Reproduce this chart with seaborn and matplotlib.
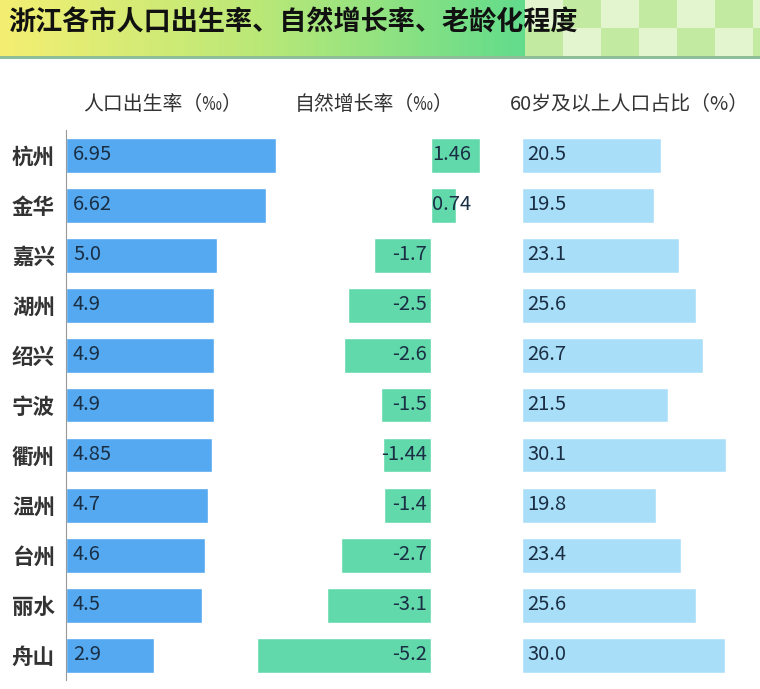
import numpy as np
import pandas as pd
import matplotlib.pyplot as plt
from matplotlib.patches import Rectangle
from matplotlib.colors import LinearSegmentedColormap
import seaborn as sns

# 数据
cities = ['杭州', '金华', '嘉兴', '湖州', '绍兴', '宁波', '衢州', '温州', '台州', '丽水', '舟山']
birth_rate = [6.95, 6.62, 5.0, 4.9, 4.9, 4.9, 4.85, 4.7, 4.6, 4.5, 2.9]
birth_labels = ['6.95', '6.62', '5.0', '4.9', '4.9', '4.9', '4.85', '4.7', '4.6', '4.5', '2.9']
growth_rate = [1.46, 0.74, -1.7, -2.5, -2.6, -1.5, -1.44, -1.4, -2.7, -3.1, -5.2]
growth_labels = ['1.46', '0.74', '-1.7', '-2.5', '-2.6', '-1.5', '-1.44', '-1.4', '-2.7', '-3.1', '-5.2']
aged_share = [20.5, 19.5, 23.1, 25.6, 26.7, 21.5, 30.1, 19.8, 23.4, 25.6, 30.0]
aged_labels = ['20.5', '19.5', '23.1', '25.6', '26.7', '21.5', '30.1', '19.8', '23.4', '25.6', '30.0']

headers = ['人口出生率（‰）', '自然增长率（‰）', '60岁及以上人口占比（%）']
title = '浙江各市人口出生率、自然增长率、老龄化程度'

df = pd.DataFrame({'city': cities, 'birth': birth_rate,
                   'growth': growth_rate, 'aged': aged_share})

sns.set_style('white')
plt.rcParams['font.family'] = ['Noto Sans CJK SC', 'DejaVu Sans']

W, H = 760, 689
fig = plt.figure(figsize=(W / 100, H / 100), dpi=100)
fig.patch.set_facecolor('white')

def px_axes(x0, y0, x1, y1):
    return fig.add_axes([x0 / W, 1 - y1 / H, (x1 - x0) / W, (y1 - y0) / H])

# 标题横幅
ban = px_axes(0, 0, W, 57)
ban.set_xlim(0, W)
ban.set_ylim(57, 0)
ban.axis('off')
grad = np.linspace(0, 1, 256)[None, :]
cmap = LinearSegmentedColormap.from_list('ban', ['#f4ef72', '#b9e878', '#62dc8c'])
ban.imshow(grad, cmap=cmap, aspect='auto', extent=[0, 525, 57, 0])
ban.add_patch(Rectangle((525, 0), W - 525, 57, color='#cdeeb0', lw=0))
sq = 38
for i, x in enumerate(range(525, W, sq)):
    for j, y in enumerate([-10, 28]):
        c = '#e3f5cf' if (i + j) % 2 == 0 else '#c2eaa0'
        ban.add_patch(Rectangle((x, y), sq, sq, color=c, lw=0))
ban.text(8, 23, title, fontsize=19.5, fontweight='bold', color='#111111', va='center', ha='left')

line_ax = px_axes(0, 56, W, 59)
line_ax.axis('off')
line_ax.add_patch(Rectangle((0, 0), 1, 1, transform=line_ax.transAxes, color='#8fbf9a', lw=0))

# 三个面板
ytop, ybot = 130, 680
ax1 = px_axes(66, ytop, 66 + 7.6 * 30.2, ybot)
ax2 = px_axes(431 - 5.6 * 33.4, ytop, 431 + 1.9 * 33.4, ybot)
ax3 = px_axes(522, ytop, 522 + 33 * 6.78, ybot)

txt_color = '#1a2e44'

sns.barplot(data=df, y='city', x='birth', orient='h', color='#55a9f0',
            saturation=1, width=0.7, ax=ax1)
sns.barplot(data=df, y='city', x='growth', orient='h', color='#62d9ab',
            saturation=1, width=0.7, ax=ax2)
sns.barplot(data=df, y='city', x='aged', orient='h', color='#a9def8',
            saturation=1, width=0.7, ax=ax3)

ax1.set_xlim(0, 7.6)
ax2.set_xlim(-5.6, 1.9)
ax3.set_xlim(0, 33)

for ax in (ax1, ax2, ax3):
    ax.set_ylim(10.5, -0.5)
    ax.set_xlabel('')
    ax.set_ylabel('')
    ax.set_xticks([])
    ax.set_facecolor('none')
    for s in ax.spines.values():
        s.set_visible(False)

ax1.spines['left'].set_visible(True)
ax1.spines['left'].set_color('#999999')
ax1.tick_params(axis='y', length=5, color='#999999', pad=3)
ax1.set_yticks(range(len(cities)))
ax1.set_yticklabels(cities, fontsize=15.5, fontweight='bold', color='#333333')
ax2.set_yticks([])
ax3.set_yticks([])

fs = 14.5
for i, lab in enumerate(birth_labels):
    ax1.annotate(lab, (0, i), xytext=(5, 0), textcoords='offset points',
                 va='center', ha='left', fontsize=fs, color=txt_color)
for i, lab in enumerate(aged_labels):
    ax3.annotate(lab, (0, i), xytext=(4, 0), textcoords='offset points',
                 va='center', ha='left', fontsize=fs, color=txt_color)
for i, (v, lab) in enumerate(zip(growth_rate, growth_labels)):
    if v >= 0:
        ax2.annotate(lab, (0, i), xytext=(1, 0), textcoords='offset points',
                     va='center', ha='left', fontsize=fs, color=txt_color)
    else:
        ax2.annotate(lab, (0, i), xytext=(-3, 0), textcoords='offset points',
                     va='center', ha='right', fontsize=fs, color=txt_color)

for x, h in zip([163, 374, 629], headers):
    fig.text(x / W, 1 - 104 / H, h, fontsize=14.3, color='#333333', ha='center', va='center')

fig.savefig('out.png', dpi=100, facecolor='white')
